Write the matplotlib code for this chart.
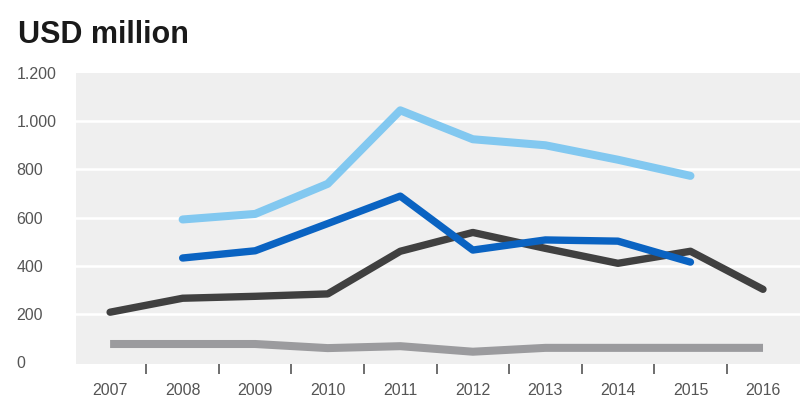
import matplotlib.pyplot as plt
from matplotlib.ticker import FixedLocator

plt.rcParams['font.family'] = ['Liberation Sans', 'DejaVu Sans']

# dados
anos = [2007, 2008, 2009, 2010, 2011, 2012, 2013, 2014, 2015, 2016]
anos_azul = [2008, 2009, 2010, 2011, 2012, 2013, 2014, 2015]

serie_escura = [207, 265, 273, 283, 460, 538, 472, 410, 460, 302]
serie_clara = [592, 615, 740, 1045, 925, 900, 840, 773]
serie_azul = [432, 462, 575, 689, 465, 507, 502, 415]
serie_cinza = [75, 75, 75, 58, 66, 43, 59, 59, 59, 59]

yticks = [0, 200, 400, 600, 800, 1000, 1200]
ylabels = ["0", "200", "400", "600", "800", "1.000", "1.200"]

fig = plt.figure(figsize=(8.08, 4.15), dpi=100)
ax = fig.add_axes([76 / 808, 51 / 415, 724 / 808, 291 / 415])
ax.set_facecolor("#efefef")

ax.plot(anos, serie_cinza, color="#9b9b9e", lw=5.8, solid_capstyle="butt", solid_joinstyle="round")
ax.plot(anos, serie_escura, color="#404040", lw=5.3, solid_capstyle="round", solid_joinstyle="round")
ax.plot(anos_azul, serie_azul, color="#0a63c2", lw=5.3, solid_capstyle="round", solid_joinstyle="round")
ax.plot(anos_azul, serie_clara, color="#82c8f0", lw=5.8, solid_capstyle="round", solid_joinstyle="round")

ax.set_xlim(2006.53, 2016.51)
ax.set_ylim(-8, 1200)

# grade branca
for y in yticks[1:-1]:
    ax.axhline(y, color="white", lw=1.8, zorder=0.5)

ax.set_yticks(yticks)
ax.set_yticklabels(ylabels)
ax.tick_params(axis="y", length=0, pad=43, labelsize=11.5, labelcolor="#555555")
for lbl in ax.get_yticklabels():
    lbl.set_horizontalalignment("left")

ax.set_xticks(anos)
ax.set_xticklabels([str(a) for a in anos])
ax.xaxis.set_minor_locator(FixedLocator([a + 0.5 for a in anos[:-1]]))
ax.tick_params(axis="x", which="major", length=0, pad=14, labelsize=11.5, labelcolor="#555555")
ax.tick_params(axis="x", which="minor", length=7, width=1.2, color="#555555", direction="out")

for s in ax.spines.values():
    s.set_visible(False)

fig.text(18 / 808, 1 - 35 / 415, "USD million", fontsize=22, fontweight="bold",
         color="#1a1a1a", va="center", ha="left")

fig.savefig("out.png", dpi=100)
